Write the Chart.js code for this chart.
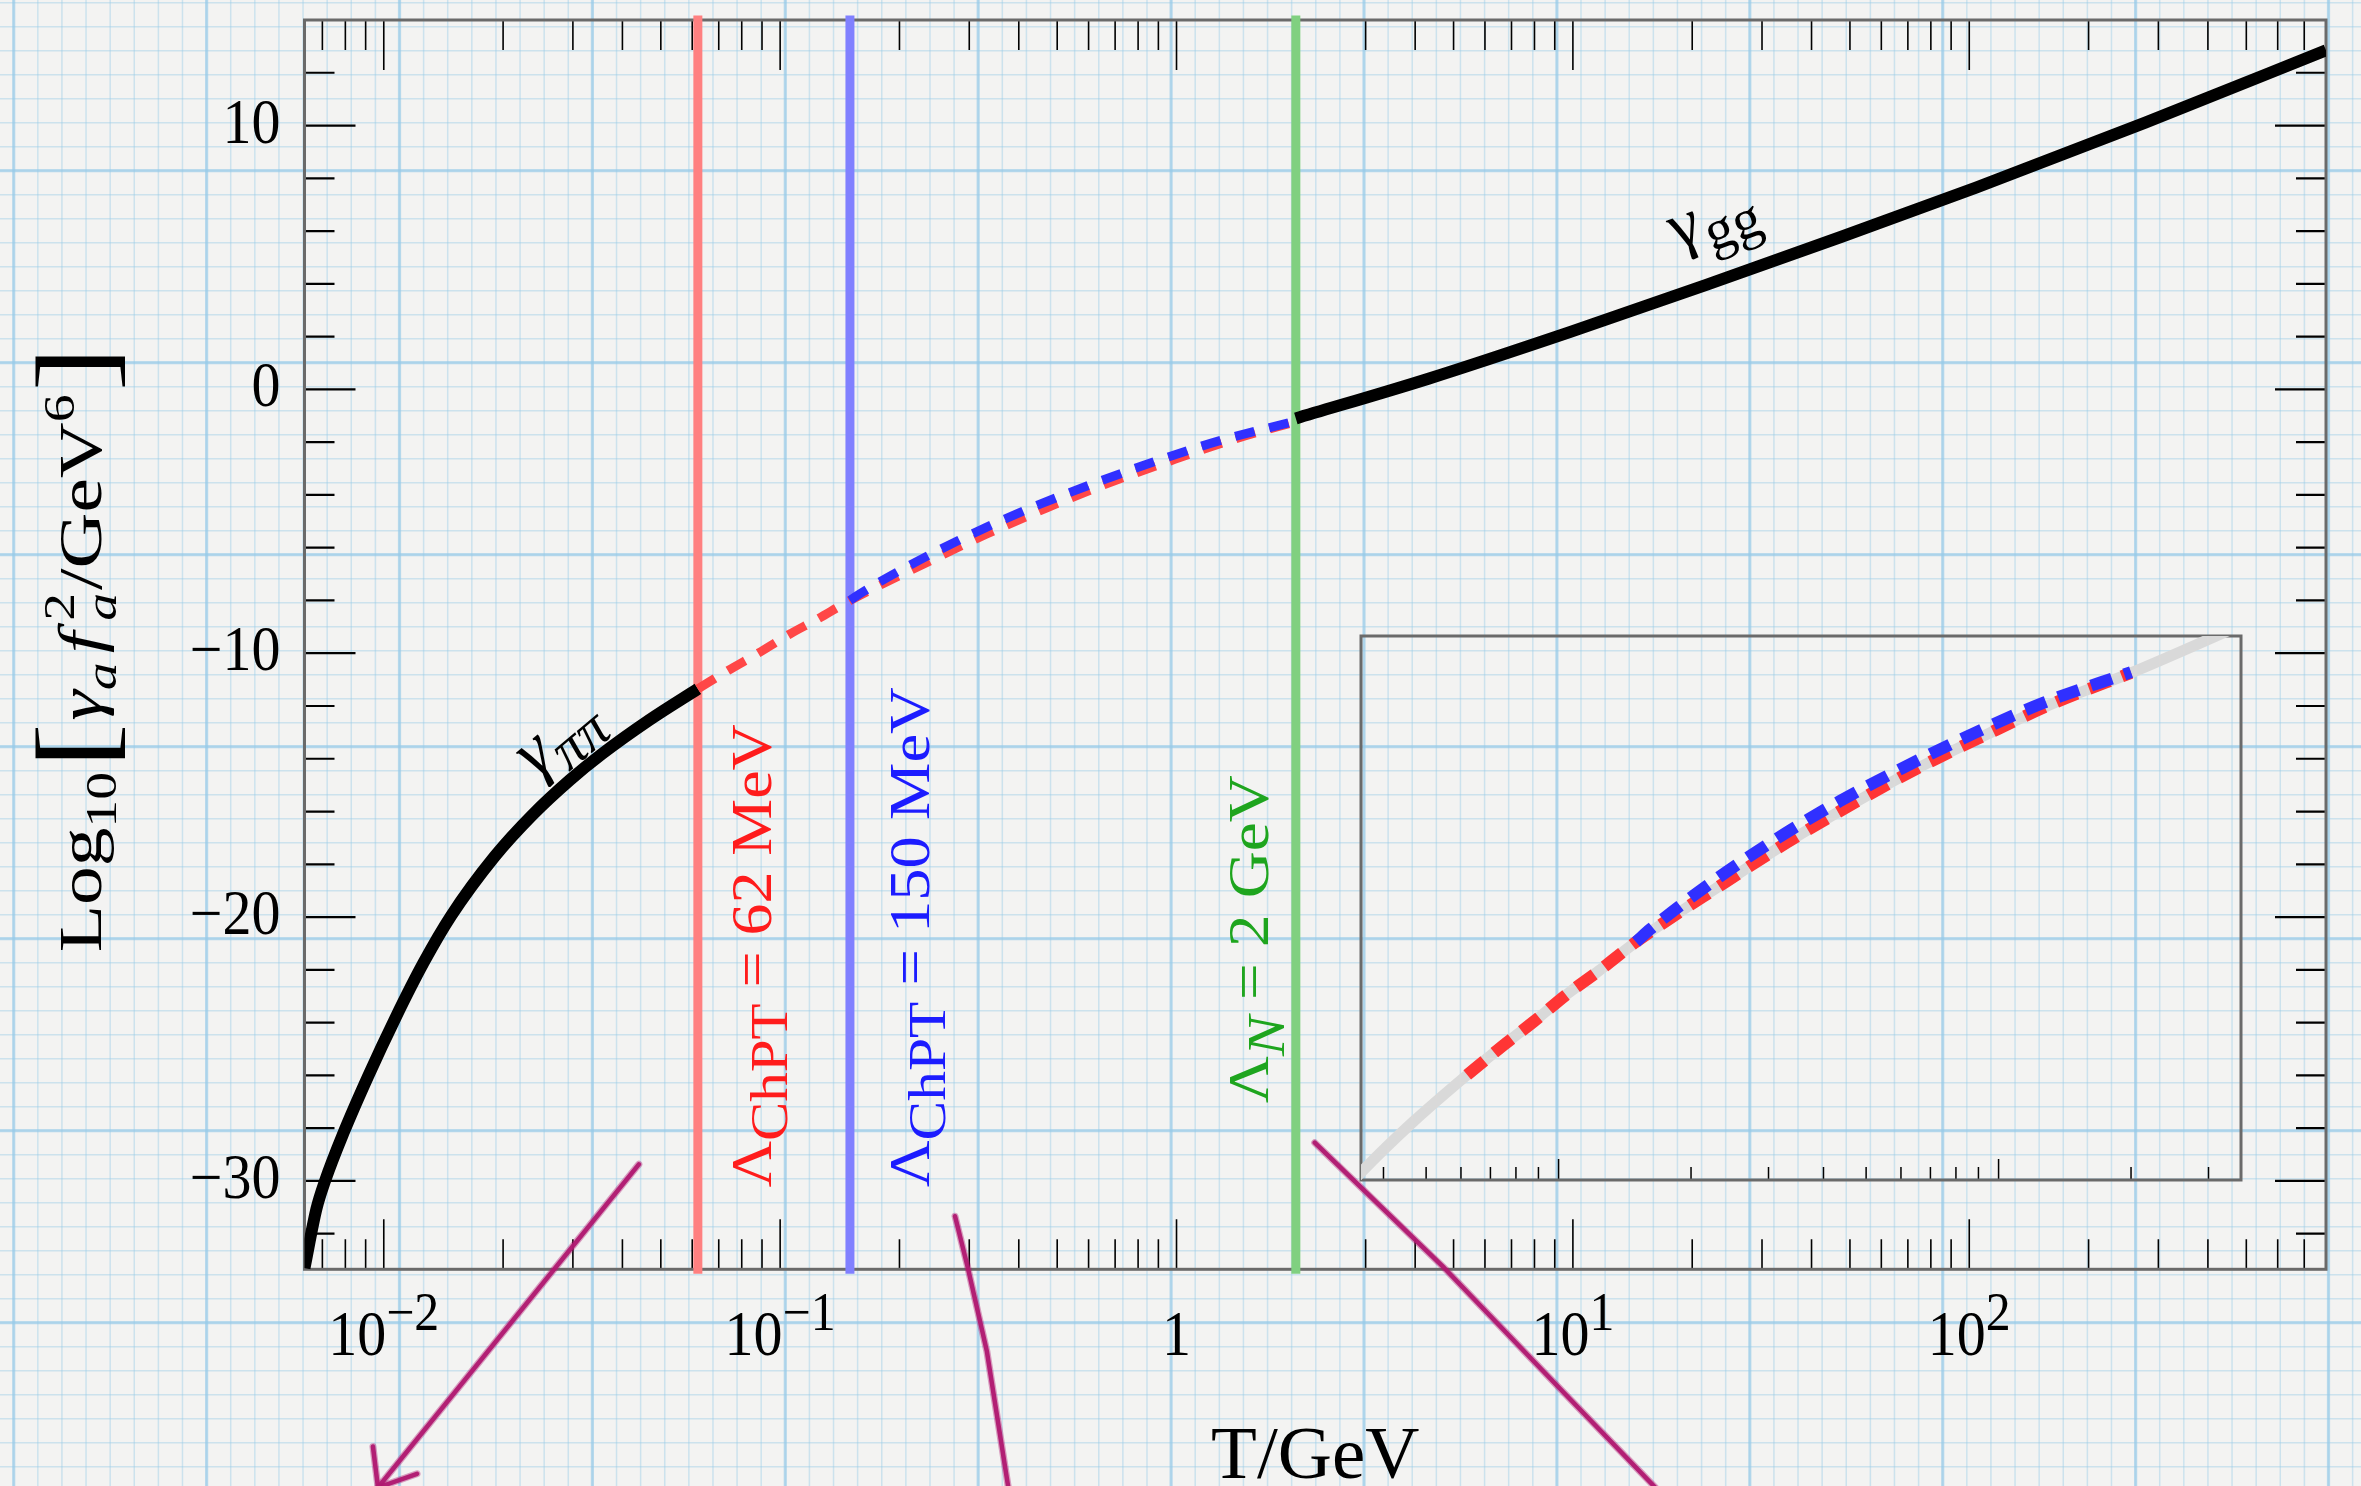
<!DOCTYPE html>
<html>
<head>
<meta charset="utf-8">
<title>Axion thermalisation rate vs temperature</title>
<script src="https://cdn.jsdelivr.net/npm/chart.js@4.4.1/dist/chart.umd.min.js"></script>
<style>
  html, body { margin: 0; padding: 0; background: #f3f3f2; overflow: hidden; }
  #stage { position: relative; width: 2361px; height: 1486px; }
  #main { position: absolute; left: 0; top: 0; }
  #inset { position: absolute; left: 1358px; top: 633px; }
</style>
</head>
<body>
<div id="stage">
  <canvas id="main" width="2361" height="1486"></canvas>
  <canvas id="inset" width="886" height="550"></canvas>
</div>
<script>
// ---- series: temperature T in GeV, rate as log10(gamma_a f_a^2 / GeV^6) ----
const tPiPi = [0.00631, 0.00676, 0.00711, 0.00794, 0.00912, 0.01072, 0.01259, 0.01479, 0.01905, 0.02371, 0.02951, 0.03556, 0.04677, 0.062];
const gPiPi = [-33.3, -31.07, -30.0, -28.13, -26.05, -23.8, -21.74, -19.95, -17.7, -16.13, -14.8, -13.81, -12.53, -11.35];

const tChPT62 = [0.062, 0.075, 0.088, 0.105, 0.1237, 0.15, 0.2375, 0.33, 0.4694, 0.65, 0.928, 1.35, 2.0];
const gChPT62 = [-11.35, -10.6, -10.0, -9.3, -8.72, -8.0, -6.52, -5.5, -4.5, -3.64, -2.8, -1.96, -1.22];

const tChPT150 = [0.15, 0.1616, 0.224, 0.315, 0.436, 0.622, 0.888, 1.267, 2.0];
const gChPT150 = [-8.0, -7.68, -6.48, -5.38, -4.45, -3.55, -2.72, -1.97, -1.2];

const tGG = [2.0, 4.32, 9.86, 21.7, 47.6, 104, 278, 794.3];
const gGG = [-1.1, 0.405, 2.18, 3.96, 5.785, 7.65, 10.11, 12.85];

// cut-off scales (GeV) and their captions
const cutoffValues = [0.062, 0.15, 2.0];
const cutoffNames  = [['Λ', 'ChPT', false], ['Λ', 'ChPT', false], ['Λ', 'N', true]];
const cutoffTexts  = [' = 62 MeV', ' = 150 MeV', ' = 2 GeV'];

// axis ticks
const xTickValues = [0.01, 0.1, 1, 10, 100];
const xTickLabels = [['10', '−2'], ['10', '−1'], ['1', ''], ['10', '1'], ['10', '2']];
const yTickValues = [-30, -20, -10, 0, 10];
const yTickLabels = ['−30', '−20', '−10', '0', '10'];

// curve captions
const curveLabels = ['γ', 'ππ', 'gg'];

// hand-drawn pointer strokes, in (T, rate) coordinates
const strokeA = [[0.044, -29.37], [0.00967, -41.62]];
const strokeAHead = [[0.00939, -40.07], [0.00967, -41.62], [0.01213, -41.1]];
const strokeB = [[0.2762, -31.34], [0.2976, -33.3], [0.3323, -36.46], [0.3764, -41.62]];
const strokeC = [[2.232, -28.55], [4.736, -33.3], [9.426, -37.98], [16.14, -41.62]];

// ---- helpers ----
const SERIF = '"Liberation Serif", "Times New Roman", "DejaVu Serif", serif';
const X_MIN = Math.pow(10, -2.2), X_MAX = Math.pow(10, 2.9);
const Y_MIN = -33.35, Y_MAX = 14.0;

const pts = (xs, ys) => xs.map((x, i) => ({ x, y: ys[i] }));

function logTicks(min, max) {
  const out = [];
  for (let d = Math.floor(Math.log10(min)); d <= Math.ceil(Math.log10(max)); d++) {
    for (let m = 1; m <= 9; m++) {
      const v = m * Math.pow(10, d);
      if (v >= min * 1.0001 && v <= max * 0.9999) out.push({ v, major: m === 1 });
    }
  }
  return out;
}

function fontOf(s, base) {
  return (s.it ? 'italic ' : '') + (base * (s.k || 1)).toFixed(1) + 'px ' + SERIF;
}
function richWidth(ctx, segs, base) {
  let w = 0;
  for (const s of segs) {
    ctx.font = fontOf(s, base);
    if (!s.stack) w += ctx.measureText(s.t).width + (s.pre || 0) * base;
  }
  return w;
}
// draws a run of text pieces (sub/superscripts) along a rotated baseline
function drawRich(ctx, segs, base, x, y, angle, opt) {
  ctx.save();
  ctx.translate(x, y);
  ctx.rotate(angle);
  const nat = richWidth(ctx, segs, base);
  const sx = opt.length ? opt.length / nat : 1;
  ctx.scale(sx, opt.sy || 1);
  let cx = opt.align === 'center' ? -nat / 2 : 0;
  const cy = opt.align === 'center' ? (opt.mid || 0) * base : 0;
  ctx.textAlign = 'left';
  ctx.textBaseline = 'alphabetic';
  ctx.fillStyle = opt.color || '#000';
  for (const s of segs) {
    ctx.font = fontOf(s, base);
    const dx = (s.pre || 0) * base;
    ctx.fillText(s.t, cx + dx, cy + (s.dy || 0) * base);
    if (!s.stack) cx += ctx.measureText(s.t).width + dx;
  }
  ctx.restore();
}

// ---- graph-paper background ----
const paperPlugin = {
  id: 'paper',
  beforeDraw(chart) {
    const { ctx, width, height } = chart;
    ctx.save();
    ctx.fillStyle = '#f3f3f2';
    ctx.fillRect(0, 0, width, height);
    const SX = 192.9, SY = 192.0, OX = 206.6, OY = 170.7;
    const rulesV = (step, off, lw, col) => {
      ctx.strokeStyle = col;
      ctx.lineWidth = lw;
      ctx.beginPath();
      for (let k = -Math.ceil(off / step); off + k * step <= width; k++) {
        const px = off + k * step;
        ctx.moveTo(px, 0); ctx.lineTo(px, height);
      }
      ctx.stroke();
    };
    const rulesH = (step, off, lw, col) => {
      ctx.strokeStyle = col;
      ctx.lineWidth = lw;
      ctx.beginPath();
      for (let k = -Math.ceil(off / step); off + k * step <= height; k++) {
        const py = off + k * step;
        ctx.moveTo(0, py); ctx.lineTo(width, py);
      }
      ctx.stroke();
    };
    rulesV(SX / 8, OX, 1.5, 'rgba(150,202,232,0.42)');
    rulesH(SY / 8, OY, 1.5, 'rgba(150,202,232,0.42)');
    rulesV(SX, OX, 3.2, 'rgba(150,202,232,0.62)');
    rulesH(SY, OY, 3.2, 'rgba(150,202,232,0.62)');
    ctx.restore();
  }
};

// ---- frame and inward tick marks ----
const framePlugin = {
  id: 'frame',
  beforeDatasetsDraw(chart) {
    const { ctx, chartArea: a, scales: { x, y } } = chart;
    ctx.save();
    ctx.strokeStyle = '#000';
    ctx.lineWidth = 1.6;
    ctx.beginPath();
    for (const t of logTicks(X_MIN, X_MAX)) {
      const px = x.getPixelForValue(t.v);
      const L = t.major ? 50 : 30;
      ctx.moveTo(px, a.bottom); ctx.lineTo(px, a.bottom - L);
      ctx.moveTo(px, a.top); ctx.lineTo(px, a.top + L);
    }
    ctx.stroke();
    ctx.lineWidth = 2.2;
    ctx.beginPath();
    for (let v = Math.ceil(Y_MIN / 2) * 2; v < Y_MAX - 0.2; v += 2) {
      const py = y.getPixelForValue(v);
      const L = v % 10 === 0 ? 51 : 30;
      ctx.moveTo(a.left, py); ctx.lineTo(a.left + L, py);
      ctx.moveTo(a.right, py); ctx.lineTo(a.right - L, py);
    }
    ctx.stroke();
    ctx.strokeStyle = '#6a6a6a';
    ctx.lineWidth = 3;
    ctx.strokeRect(a.left, a.top, a.right - a.left, a.bottom - a.top);
    ctx.restore();
  }
};

// ---- tick labels, titles, captions, pointer strokes ----
const textPlugin = {
  id: 'texts',
  afterDatasetsDraw(chart) {
    const { ctx, chartArea: a, scales: { x, y } } = chart;
    const TICK = 58;
    ctx.save();
    ctx.fillStyle = '#000';
    ctx.textAlign = 'left';
    ctx.textBaseline = 'alphabetic';
    // x tick labels: powers of ten
    xTickValues.forEach((v, i) => {
      const px = x.getPixelForValue(v);
      const [b, s] = xTickLabels[i];
      ctx.font = TICK + 'px ' + SERIF;
      const w1 = ctx.measureText(b).width;
      ctx.font = (TICK * 0.86) + 'px ' + SERIF;
      const w2 = s ? ctx.measureText(s).width : 0;
      const left = px - (w1 + w2) / 2;
      ctx.save();
      ctx.translate(0, a.bottom + 86);
      ctx.scale(1, 1.08);
      ctx.font = TICK + 'px ' + SERIF;
      ctx.fillText(b, left, 0);
      if (s) {
        ctx.font = (TICK * 0.86) + 'px ' + SERIF;
        ctx.fillText(s, left + w1, -0.4 * TICK);
      }
      ctx.restore();
    });
    // y tick labels
    ctx.textAlign = 'right';
    yTickValues.forEach((v, i) => {
      const py = y.getPixelForValue(v);
      ctx.save();
      ctx.translate(a.left - 24, py + 17);
      ctx.scale(1, 1.08);
      ctx.font = TICK + 'px ' + SERIF;
      ctx.fillText(yTickLabels[i], 0, 0);
      ctx.restore();
    });
    ctx.textAlign = 'left';

    // x title
    ctx.font = '75px ' + SERIF;
    ctx.textAlign = 'center';
    ctx.fillText('T/GeV', (a.left + a.right) / 2, a.bottom + 209);
    ctx.textAlign = 'left';

    // y title: Log10[gamma_a f_a^2 / GeV^6]
    drawRich(ctx, [
      { t: 'Log' },
      { t: '10', k: 0.72, dy: 0.25 },
      { t: '[', k: 1.75, dy: 0.17, pre: 0.05 },
      { t: 'γ', it: true, pre: 0.03 },
      { t: 'a', it: true, k: 0.72, dy: 0.25 },
      { t: 'f', it: true, pre: 0.12 },
      { t: '2', k: 0.72, dy: -0.42, stack: true, pre: 0.14 },
      { t: 'a', it: true, k: 0.72, dy: 0.25, pre: 0.14 },
      { t: '/GeV', pre: 0.04 },
      { t: '6', k: 0.72, dy: -0.42 },
      { t: ']', k: 1.75, dy: 0.17, pre: 0.04 }
    ], 62, a.left - 204, a.bottom - 317, -Math.PI / 2, { length: 606 });

    // curve captions
    drawRich(ctx, [
      { t: curveLabels[0], it: true },
      { t: curveLabels[1], it: true, k: 0.8, dy: 0.22, pre: 0.02 }
    ], 72, x.getPixelForValue(0.0285), y.getPixelForValue(-13.45), -40 * Math.PI / 180,
      { align: 'center', mid: 0.12 });
    drawRich(ctx, [
      { t: curveLabels[0] },
      { t: curveLabels[2], k: 0.84, dy: 0.2, pre: 0.04 }
    ], 68, x.getPixelForValue(23.0), y.getPixelForValue(6.1), -20 * Math.PI / 180,
      { align: 'center', mid: 0.1 });

    // cut-off captions, reading upward
    const capColors = ['#ff1c1c', '#1c1cff', '#1ea51e'];
    const capX = [a.left + 466, a.left + 624, a.left + 963];
    const capY = [a.bottom - 82, a.bottom - 82, a.bottom - 166];
    const capLen = [463, 500, 328];
    cutoffValues.forEach((c, i) => {
      const [big, sub, it] = cutoffNames[i];
      drawRich(ctx, [
        { t: big },
        { t: sub, it, k: 0.92, dy: 0.29 },
        { t: cutoffTexts[i] }
      ], 58, capX[i], capY[i], -Math.PI / 2, { length: capLen[i], color: capColors[i] });
    });

    // pointer strokes
    const toPx = p => [x.getPixelForValue(p[0]), y.getPixelForValue(p[1])];
    const stroke = (path) => {
      ctx.beginPath();
      path.map(toPx).forEach(([px, py], k) => k ? ctx.lineTo(px, py) : ctx.moveTo(px, py));
      ctx.stroke();
    };
    ctx.lineCap = 'round';
    ctx.lineJoin = 'round';
    for (const [lw, col] of [[7, 'rgba(176,24,112,0.40)'], [4.5, 'rgba(176,24,112,0.95)']]) {
      ctx.lineWidth = lw;
      ctx.strokeStyle = col;
      [strokeA, strokeAHead, strokeB, strokeC].forEach(stroke);
    }
    ctx.restore();
  }
};

// ---- main chart ----
const lineColors = ['#ff8080', '#8080ff', '#80d080'];
const mainDatasets = [
  ...cutoffValues.map((c, i) => ({
    data: [{ x: c, y: Y_MIN }, { x: c, y: Y_MAX }],
    borderColor: lineColors[i], borderWidth: 9, borderCapStyle: 'square',
    pointRadius: 0, clip: 10, order: 4
  })),
  { data: pts(tPiPi, gPiPi), borderColor: '#000', borderWidth: 12, cubicInterpolationMode: 'monotone', pointRadius: 0, order: 2 },
  { data: pts(tGG, gGG), borderColor: '#000', borderWidth: 12, cubicInterpolationMode: 'monotone', pointRadius: 0, order: 2 },
  { data: pts(tChPT62, gChPT62), borderColor: '#ff4747', borderWidth: 9, borderDash: [20, 15], cubicInterpolationMode: 'monotone', pointRadius: 0, order: 1 },
  { data: pts(tChPT150, gChPT150), borderColor: '#3030ff', borderWidth: 9, borderDash: [20, 15], cubicInterpolationMode: 'monotone', pointRadius: 0, order: 0 }
];

new Chart(document.getElementById('main'), {
  type: 'line',
  data: { datasets: mainDatasets },
  options: {
    responsive: false, animation: false, devicePixelRatio: 1, events: [],
    layout: { padding: { left: 304.5, right: 35, top: 20, bottom: 216.7 } },
    plugins: { legend: { display: false }, tooltip: { enabled: false } },
    scales: {
      x: { type: 'logarithmic', min: X_MIN, max: X_MAX, display: false },
      y: { type: 'linear', min: Y_MIN, max: Y_MAX, display: false }
    }
  },
  plugins: [paperPlugin, framePlugin, textPlugin]
});

// ---- inset: close-up of the transition region ----
const I_XMIN = 0.03556, I_XMAX = 3.556, I_YMIN = -14.0, I_YMAX = -0.29;
const nPi = tPiPi.filter(t => t < 0.062).length;
const nGG = tGG.filter(t => t > 2.0).length;
const fullT = [...tPiPi.slice(0, nPi), ...tChPT62, ...tGG.slice(tGG.length - nGG)];
const fullG = [...gPiPi.slice(0, nPi), ...gChPT62, ...gGG.slice(gGG.length - nGG)];

const insetFrame = {
  id: 'insetFrame',
  beforeDatasetsDraw(chart) {
    const { ctx, chartArea: a, scales: { x } } = chart;
    ctx.save();
    ctx.strokeStyle = '#000';
    ctx.lineWidth = 1.5;
    ctx.beginPath();
    for (const t of logTicks(I_XMIN, I_XMAX)) {
      const px = x.getPixelForValue(t.v);
      ctx.moveTo(px, a.bottom); ctx.lineTo(px, a.bottom - (t.major ? 21 : 13));
    }
    ctx.stroke();
    ctx.strokeStyle = '#6a6a6a';
    ctx.lineWidth = 3;
    ctx.strokeRect(a.left, a.top, a.right - a.left, a.bottom - a.top);
    ctx.restore();
  }
};

new Chart(document.getElementById('inset'), {
  type: 'line',
  data: {
    datasets: [
      { data: pts(fullT, fullG), borderColor: '#d9d9d9', borderWidth: 11, cubicInterpolationMode: 'monotone', pointRadius: 0, clip: 0, order: 2 },
      { data: pts(tChPT62, gChPT62), borderColor: '#ff3535', borderWidth: 12, borderDash: [22, 13], cubicInterpolationMode: 'monotone', pointRadius: 0, clip: 0, order: 1 },
      { data: pts(tChPT150, gChPT150), borderColor: '#3030ff', borderWidth: 12, borderDash: [22, 13], cubicInterpolationMode: 'monotone', pointRadius: 0, clip: 0, order: 0 }
    ]
  },
  options: {
    responsive: false, animation: false, devicePixelRatio: 1, events: [],
    layout: { padding: 3 },
    plugins: { legend: { display: false }, tooltip: { enabled: false } },
    scales: {
      x: { type: 'logarithmic', min: I_XMIN, max: I_XMAX, display: false },
      y: { type: 'linear', min: I_YMIN, max: I_YMAX, display: false }
    }
  },
  plugins: [insetFrame]
});
</script>
</body>
</html>
